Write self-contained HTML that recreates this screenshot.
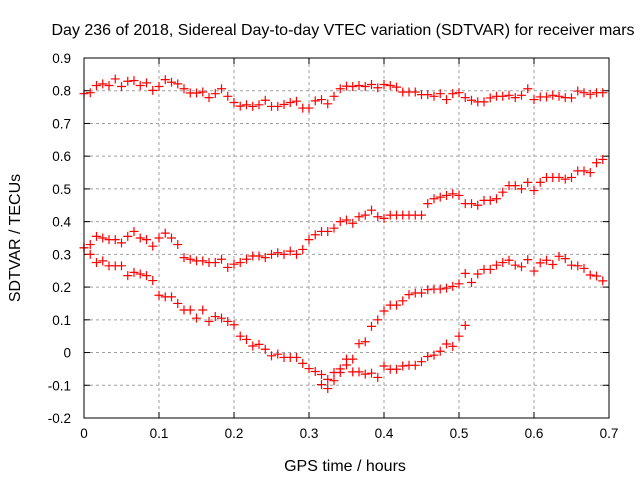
<!DOCTYPE html>
<html><head><meta charset="utf-8"><style>
body{margin:0;background:#fff}
svg{display:block;font-family:"Liberation Sans",sans-serif}
</style></head><body>
<svg id="chart" width="640" height="480">
<text x="343" y="35" font-size="16" text-anchor="middle">Day 236 of 2018, Sidereal Day-to-day VTEC variation (SDTVAR) for receiver mars</text>
<text transform="translate(20,238) rotate(-90)" font-size="16" text-anchor="middle">SDTVAR / TECUs</text>
<text x="345" y="471" font-size="16" text-anchor="middle">GPS time / hours</text>
<g id="grid"></g><g id="ticks"></g><g id="marks"></g>
<rect x="84" y="58" width="525" height="360" fill="none" stroke="#000" stroke-width="1"/>
</svg>
<script>
const xTicks=[0,0.1,0.2,0.3,0.4,0.5,0.6,0.7];
const yTicks=[-0.2,-0.1,0,0.1,0.2,0.3,0.4,0.5,0.6,0.7,0.8,0.9];
const xTickLabels=["0","0.1","0.2","0.3","0.4","0.5","0.6","0.7"];
const yTickLabels=["-0.2","-0.1","0","0.1","0.2","0.3","0.4","0.5","0.6","0.7","0.8","0.9"];
const stepHours=30/3600;
const seriesTop=[.791,.794,.816,.821,.816,.836,.813,.829,.831,.816,.824,.801,.813,.834,.826,.821,.806,.793,.793,.796,.779,.791,.806,.783,.764,.753,.757,.752,.757,.771,.752,.752,.758,.764,.768,.747,.747,.769,.773,.760,.783,.806,.814,
.813,.816,.813,.819,.809,.819,.816,.811,.796,.796,.796,.788,.788,.783,.791,.773,.791,.794,.779,.771,.766,.766,.778,.783,.783,.786,.779,.786,.806,.773,.781,.781,.786,.783,.779,.778,.799,.794,.789,.794,.794];
const seriesMiddle=[.32,.33,.355,.35,.345,.345,.335,.355,.37,.35,.345,.325,.35,.365,.35,.33,.29,.285,.28,.28,.275,.275,.285,.26,.27,.275,.285,.295,.295,.29,.30,.305,.30,.31,.30,.315,.345,.36,.37,.37,.38,.40,.405,
.395,.415,.42,.435,.415,.41,.42,.42,.42,.42,.42,.42,.455,.47,.475,.48,.485,.48,.455,.455,.45,.465,.465,.47,.49,.51,.51,.5,.52,.495,.52,.535,.535,.535,.53,.535,.555,.555,.55,.58,.59];
const seriesBottom=[.32,.30,.275,.28,.265,.265,.265,.235,.245,.24,.235,.22,.175,.17,.17,.15,.13,.13,.105,.13,.095,.11,.105,.095,.085,.05,.04,.02,.025,.01,-.01,-.005,-.015,-.015,-.015,
-.033,-.049,-.058,-.067,-.082,-.061,-.05,-.02,-.02,.027,.033,.08,.10,.127,.145,.145,.158,
.177,.182,.182,.192,.194,.194,.197,.202,.21,.242,.214,.24,.254,.254,.267,.275,.282,.267,.262,.284,.249,.274,.282,.269,.294,.287,.267,.265,.257,.237,.234,.219];
const seriesLowStart=38;
const seriesLow=[-.098,-.11,-.086,-.061,-.038,-.059,-.059,-.066,-.063,-.076,-.041,-.051,-.051,-.041,-.039,-.039,-.028,-.012,-.008,.004,.026,.019,.05,.083];

const NS="http://www.w3.org/2000/svg";
const L=84,R=609,T=58,B=418;
function xs(v){return L+(v-0)/(0.7-0)*(R-L);}
function ys(v){return B-(v+0.2)/(0.9+0.2)*(B-T);}
function mk(tag,attrs,parent){const e=document.createElementNS(NS,tag);for(const k in attrs)e.setAttribute(k,attrs[k]);parent.appendChild(e);return e;}
const grid=document.getElementById('grid'),ticks=document.getElementById('ticks'),marks=document.getElementById('marks');
xTicks.forEach((t,i)=>{
  const x=xs(t);
  if(i>0&&i<xTicks.length-1){const g=mk('line',{x1:x,x2:x,y1:T,y2:B,stroke:'#a0a0a0','stroke-dasharray':'3,3'},grid);
  
  }
  mk('line',{x1:x,x2:x,y1:B,y2:B-6,stroke:'#000'},ticks);
  mk('line',{x1:x,x2:x,y1:T,y2:T+6,stroke:'#000'},ticks);
  const tx=mk('text',{x:x,y:B+20,'font-size':13.5,'text-anchor':'middle'},ticks);tx.textContent=xTickLabels[i];
  
  
});
yTicks.forEach((t,i)=>{
  const y=ys(t);
  if(i>0&&i<yTicks.length-1){const g=mk('line',{x1:L,x2:R,y1:y,y2:y,stroke:'#a0a0a0','stroke-dasharray':'3,3'},grid);
  
  }
  mk('line',{x1:L,x2:L+6,y1:y,y2:y,stroke:'#000'},ticks);
  mk('line',{x1:R,x2:R-6,y1:y,y2:y,stroke:'#000'},ticks);
  const tx=mk('text',{x:L-13,y:y+5,'font-size':13.5,'text-anchor':'end'},ticks);tx.textContent=yTickLabels[i];
  
  
});
function plus(x,y,name){
  const p=mk('path',{d:`M${x-4.5},${y}H${x+4.5}M${x},${y-4.5}V${y+4.5}`,stroke:'#ff0000','stroke-width':1.2,fill:'none'},marks);
  
  
}
seriesTop.forEach((v,i)=>plus(xs(i*stepHours),ys(v),'point-top'));
seriesMiddle.forEach((v,i)=>plus(xs(i*stepHours),ys(v),'point-middle'));
seriesBottom.forEach((v,i)=>plus(xs(i*stepHours),ys(v),'point-bottom'));
seriesLow.forEach((v,i)=>plus(xs((i+seriesLowStart)*stepHours),ys(v),'point-low'));
</script>
</body></html>
